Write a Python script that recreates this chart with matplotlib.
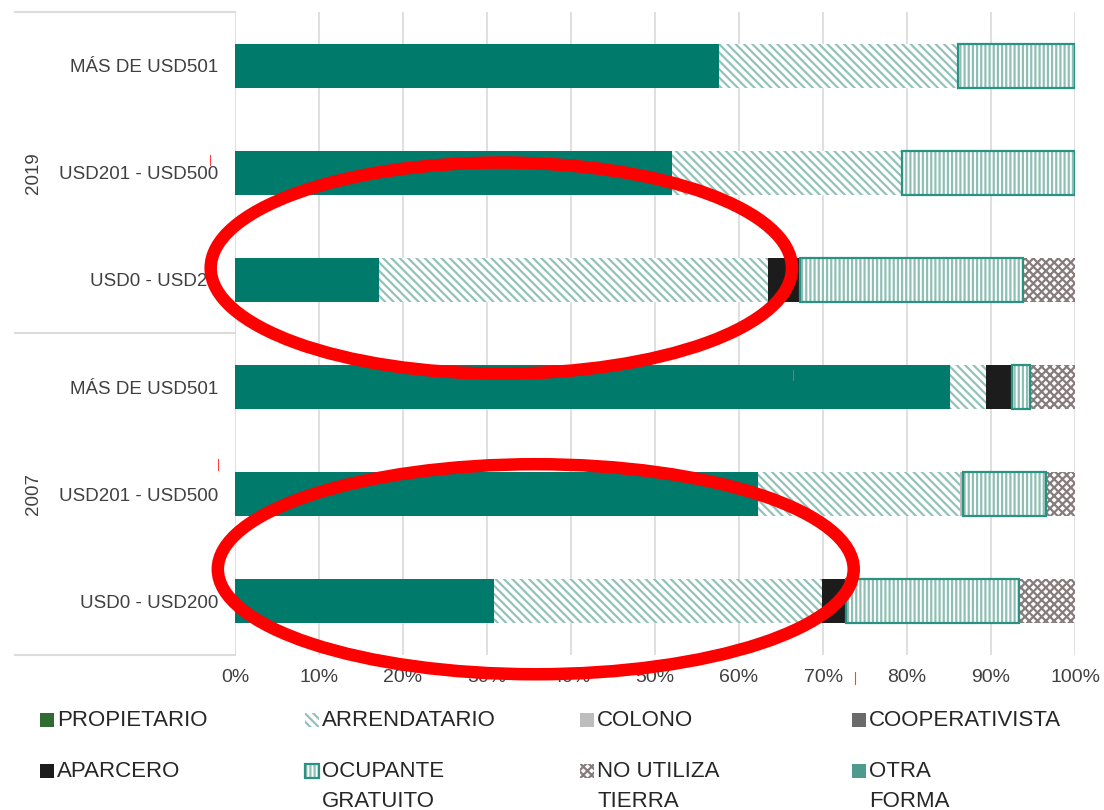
import numpy as np
import matplotlib
matplotlib.use("Agg")
import matplotlib.pyplot as plt
from matplotlib.patches import Rectangle, Ellipse
from matplotlib.lines import Line2D
from matplotlib.transforms import blended_transform_factory

plt.rcParams['font.family'] = ['Liberation Sans', 'DejaVu Sans']
plt.rcParams['hatch.linewidth'] = 1.6

# rows from bottom to top
rangos = ["USD0 - USD200", "USD201 - USD500", "MÁS DE USD501",
          "USD0 - USD20", "USD201 - USD500", "MÁS DE USD501"]
anios = ["2007", "2019"]

# percent shares per row (same order as rangos)
propietario = [30.8, 62.3, 85.1, 17.1, 52.0, 57.6]
arrendatario = [39.1, 24.0, 4.3, 46.4, 27.4, 28.5]
colono = [0.0, 0.4, 0.0, 0.0, 0.0, 0.0]
cooperativista = [0.0, 0.0, 0.0, 0.0, 0.0, 0.0]
aparcero = [2.8, 0.0, 3.1, 3.8, 0.0, 0.0]
ocupante = [20.6, 9.8, 2.1, 26.5, 20.6, 13.9]
no_utiliza = [6.7, 3.5, 5.4, 6.2, 0.0, 0.0]
otra = [0.0, 0.0, 0.0, 0.0, 0.0, 0.0]

series = [
    ("PROPIETARIO", propietario),
    ("ARRENDATARIO", arrendatario),
    ("COLONO", colono),
    ("COOPERATIVISTA", cooperativista),
    ("APARCERO", aparcero),
    ("OCUPANTE\nGRATUITO", ocupante),
    ("NO UTILIZA\nTIERRA", no_utiliza),
    ("OTRA\nFORMA", otra),
]

# bar styles: (facecolor, hatch, hatch colour, edge colour)
estilos = {
    "PROPIETARIO": ("#007A6B", None, None, None),
    "ARRENDATARIO": ("white", "\\\\\\\\", "#93C2B8", None),
    "COLONO": ("#BDBDBD", None, None, None),
    "COOPERATIVISTA": ("#6B6B6B", None, None, None),
    "APARCERO": ("#1C1C1C", None, None, None),
    "OCUPANTE\nGRATUITO": ("white", "||||", "#8EBFB4", "#2A9282"),
    "NO UTILIZA\nTIERRA": ("white", "xxxx", "#877C7C", None),
    "OTRA\nFORMA": ("#4E9A8E", None, None, None),
}
leyenda_color = {"PROPIETARIO": "#2F6B33"}

fig = plt.figure(figsize=(11.04, 8.10), dpi=100)
ax = fig.add_axes([0.2129, 0.1914, 0.7609, 0.7938])

y = np.arange(len(rangos))
h = 0.41
left = np.zeros(len(rangos))
for name, vals in series:
    vals = np.array(vals)
    fc, hatch, hc, ec = estilos[name]
    if hatch is None:
        ax.barh(y, vals, h, left=left, color=fc, linewidth=0, zorder=2)
    else:
        ax.barh(y, vals, h, left=left, color=fc, hatch=hatch,
                edgecolor=hc, linewidth=0, zorder=2)
        if ec is not None:
            mask = vals > 0
            ax.barh(y[mask], vals[mask], h, left=left[mask], fill=False,
                    edgecolor=ec, linewidth=1.6, zorder=3)
    left = left + vals

ax.set_xlim(0, 100)
ax.set_ylim(-0.5, len(rangos) - 0.5)
ax.set_xticks(np.arange(0, 101, 10))
ax.set_xticklabels([f"{v}%" for v in range(0, 101, 10)], fontsize=14, color="#404040")
ax.set_yticks(y)
ax.set_yticklabels(rangos, fontsize=13.5, color="#404040")
ax.tick_params(length=0, pad=10)
ax.tick_params(axis='y', pad=12)
ax.grid(axis='x', color="#DCDCDC", linewidth=1.3, zorder=0)
ax.set_axisbelow(True)
for s in ax.spines.values():
    s.set_visible(False)

# group separators and year labels on the left
tr = blended_transform_factory(ax.transAxes, ax.transData)
for yy in [-0.5, 2.5, 5.5]:
    ax.plot([-0.262, 0], [yy, yy], transform=tr, color="#DCDCDC",
            linewidth=1.5, clip_on=False)
for i, anio in enumerate(anios):
    ax.text(-0.24, 1 + 3 * i, anio, transform=tr, rotation=90,
            ha='center', va='center', fontsize=13.5, color="#404040")

# red annotation ellipses, drawn on top of everything
for cx, cy, ew, eh in [(31.7, 3.11, 69.2, 1.97), (35.8, 0.30, 75.7, 1.96)]:
    fig.add_artist(Ellipse((cx, cy), ew, eh, transform=ax.transData,
                           fill=False, edgecolor="#FF0000", linewidth=9))

# small red marks left on the original image
W, H = 1104.0, 810.0
for mx, my0, my1 in [(210, 155, 165), (218, 459, 470), (855, 672, 684), (793, 370, 380)]:
    fig.add_artist(Line2D([mx / W, mx / W], [1 - my0 / H, 1 - my1 / H],
                          transform=fig.transFigure, color="#FF4040", linewidth=0.8))

# legend drawn by hand, two rows of four
col_x = [40, 305, 580, 852]
row_y = [720, 771]
for k, (name, vals) in enumerate(series):
    r, c = divmod(k, 4)
    px, py = col_x[c], row_y[r]
    fc, hatch, hc, ec = estilos[name]
    fc = leyenda_color.get(name, fc)
    rect = Rectangle((px / W, 1 - (py + 7) / H), 14 / W, 14 / H,
                     transform=fig.transFigure, facecolor=fc,
                     hatch=hatch, edgecolor=hc if hatch else fc,
                     linewidth=0)
    fig.add_artist(rect)
    if ec is not None:
        fig.add_artist(Rectangle((px / W, 1 - (py + 7) / H), 14 / W, 14 / H,
                                 transform=fig.transFigure, fill=False,
                                 edgecolor=ec, linewidth=1.6))
    fig.text((px + 17) / W, 1 - (py - 10) / H, name, fontsize=16,
             color="#262626", ha='left', va='top', linespacing=1.55)

fig.savefig("out.png", dpi=100)
